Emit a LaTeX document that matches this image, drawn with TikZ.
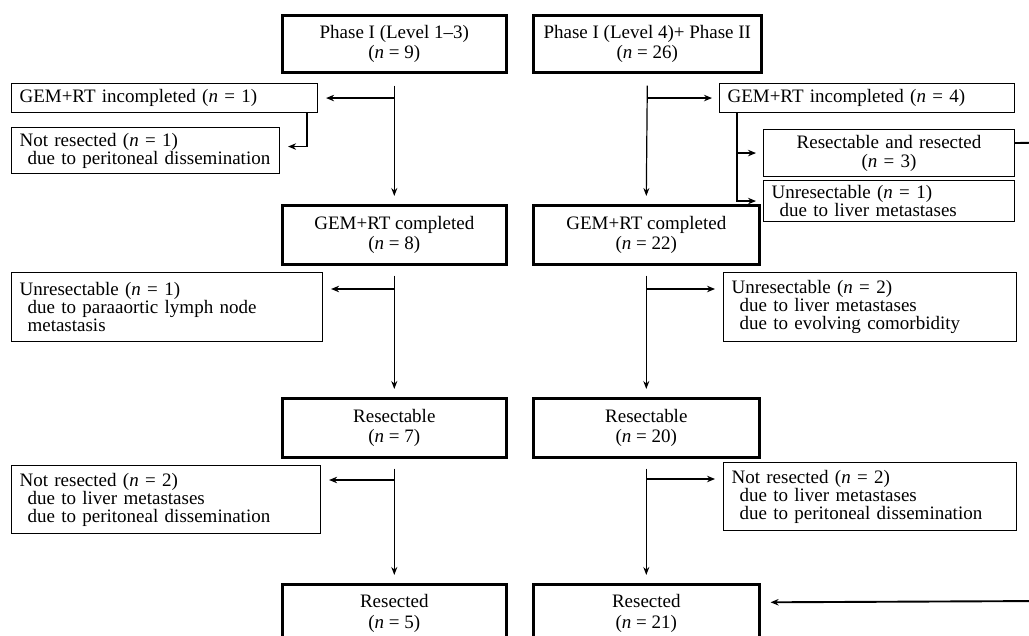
\documentclass[tikz,border=0pt]{standalone}
\usepackage{fontspec}
\setmainfont{Liberation Serif}
\usetikzlibrary{arrows.meta}
\begin{document}
\begin{tikzpicture}[x=1pt,y=-1pt,
  every node/.style={font=\fontsize{19}{18}\selectfont},
  mainbox/.style={draw, line width=2.6pt, align=center, inner sep=0pt, anchor=north west,
    font=\fontsize{19}{20.5}\selectfont},
  sidebox/.style={draw, line width=1.1pt, align=left, inner xsep=8pt, inner ysep=0pt, anchor=north west},
  vline/.style={line width=1.2pt, -{Stealth[length=8pt,width=6pt]}},
  harr/.style={line width=1.9pt, -{Stealth[length=8pt,width=6.5pt]}}
]
\useasboundingbox (0,0) rectangle (1029,636);
\fill[white] (0,0) rectangle (1029,636);
\clip (0,0) rectangle (1029,636);

% main column boxes
\node[mainbox, minimum width=224pt, minimum height=57pt] (L1) at (281,14) {Phase I (Level 1--3)\\(\textit{n} = 9)};
\node[mainbox, minimum width=228pt, minimum height=57pt] (R1) at (532,14) {Phase I (Level 4)+ Phase II\\(\textit{n} = 26)};
\node[mainbox, minimum width=224pt, minimum height=59pt] (L2) at (281,204) {GEM+RT completed\\(\textit{n} = 8)};
\node[mainbox, minimum width=226pt, minimum height=59pt] (R2) at (532,204) {GEM+RT completed\\(\textit{n} = 22)};
\node[mainbox, minimum width=224pt, minimum height=59pt] (L3) at (281,397) {Resectable\\(\textit{n} = 7)};
\node[mainbox, minimum width=226pt, minimum height=59pt] (R3) at (532,397) {Resectable\\(\textit{n} = 20)};
\node[mainbox, minimum width=224pt, minimum height=58pt] (L4) at (281,583) {Resected\\(\textit{n} = 5)};
\node[mainbox, minimum width=226pt, minimum height=58pt] (R4) at (532,583) {Resected\\(\textit{n} = 21)};

% side boxes
\node[sidebox, text width=290pt, minimum height=29pt] (G1) at (11,83) {GEM+RT incompleted (\textit{n} = 1)};
\node[sidebox, text width=252pt, minimum height=46pt] (N1) at (11,127) {Not resected (\textit{n} = 1)\\\hspace*{8pt}due to peritoneal dissemination};
\node[sidebox, text width=279pt, minimum height=29pt] (G4) at (719,83) {GEM+RT incompleted (\textit{n} = 4)};
\node[sidebox, align=center, text width=235pt, minimum height=47pt, font=\fontsize{19}{19}\selectfont] (RR) at (763,129) {Resectable and resected\\(\textit{n} = 3)};
\node[sidebox, text width=235pt, minimum height=41pt] (UR) at (763,180) {Unresectable (\textit{n} = 1)\\\hspace*{8pt}due to liver metastases};
\node[sidebox, text width=295pt, minimum height=69pt] (U1) at (11,272) {Unresectable (\textit{n} = 1)\\\hspace*{8pt}due to paraaortic lymph node\\\hspace*{8pt}metastasis};
\node[sidebox, text width=277pt, minimum height=69pt] (U2) at (723,272) {Unresectable (\textit{n} = 2)\\\hspace*{8pt}due to liver metastases\\\hspace*{8pt}due to evolving comorbidity};
\node[sidebox, text width=293pt, minimum height=68pt] (NL) at (11,465) {Not resected (\textit{n} = 2)\\\hspace*{8pt}due to liver metastases\\\hspace*{8pt}due to peritoneal dissemination};
\node[sidebox, text width=277pt, minimum height=68pt] (NR) at (723,462) {Not resected (\textit{n} = 2)\\\hspace*{8pt}due to liver metastases\\\hspace*{8pt}due to peritoneal dissemination};

% helper coordinates
\coordinate (g1a) at ([xshift=8pt]G1.east);
\coordinate (n1a) at ([xshift=8pt,yshift=4pt]N1.east);
\coordinate (g4a) at ([xshift=-7pt]G4.west);
\coordinate (g4b) at ([xshift=18pt]G4.south west);
\coordinate (rra) at ([xshift=-7pt]RR.west);
\coordinate (ura) at ([xshift=-7pt]UR.west);
\coordinate (u1a) at ([xshift=8pt,yshift=-17pt]U1.north east);
\coordinate (u2a) at ([xshift=-8pt,yshift=-17pt]U2.north west);
\coordinate (nla) at ([xshift=8pt,yshift=-15pt]NL.north east);
\coordinate (nra) at ([xshift=-8pt,yshift=-17pt]NR.north west);
\coordinate (rrb) at ([yshift=10pt]RR.east);
\coordinate (far1) at (1045,142.5);
\coordinate (far2) at (1045,601);
\coordinate (r4a) at ([xshift=10pt,yshift=11pt]R4.east);

% left column
\draw[vline] ([yshift=-12pt]L1.south) -- ([yshift=8pt]L2.north);
\draw[harr] (L1.south |- g1a) -- (g1a);
\draw[harr] ([xshift=-11pt]G1.south east) |- (n1a);
\draw[vline] ([yshift=-10pt]L2.south) -- ([yshift=8pt]L3.north);
\draw[harr] (L2.south |- u1a) -- (u1a);
\draw[vline] ([yshift=-10pt]L3.south) -- ([yshift=8pt]L4.north);
\draw[harr] (L3.south |- nla) -- (nla);

% right column
\draw[vline] ([yshift=-12pt]R1.south) -- ([yshift=8pt]R2.north);
\draw[harr] (R1.south |- g4a) -- (g4a);
\draw[harr] (g4b) |- (rra);
\draw[harr] (g4b) |- (ura);
\draw[vline] ([yshift=-10pt]R2.south) -- ([yshift=8pt]R3.north);
\draw[harr] (R2.south |- u2a) -- (u2a);
\draw[vline] ([yshift=-10pt]R3.south) -- ([yshift=8pt]R4.north);
\draw[harr] (R3.south |- nra) -- (nra);
\draw[harr] (rrb) -- (far1) -- (far2) -- (r4a);
\end{tikzpicture}
\end{document}
